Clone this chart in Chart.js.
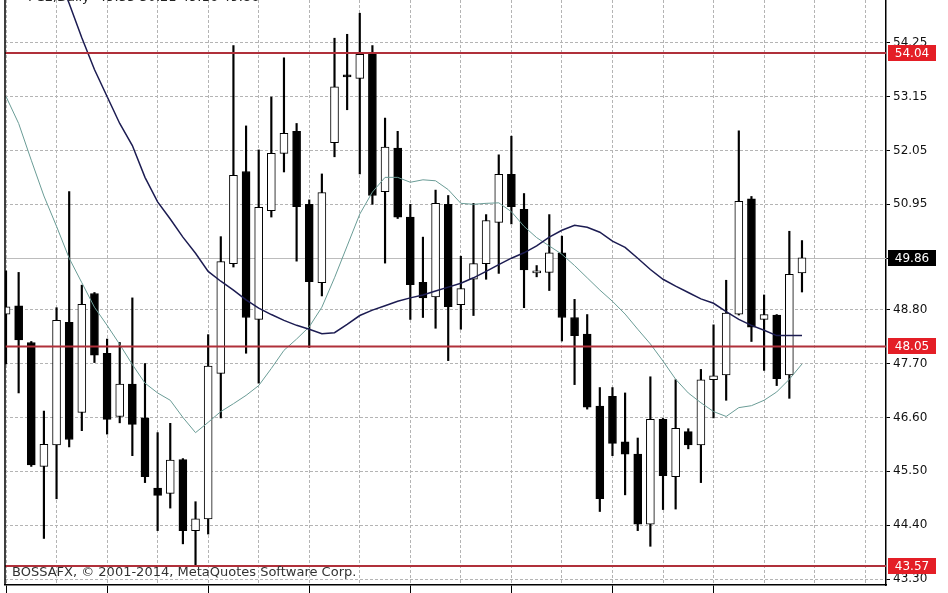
<!DOCTYPE html>
<html><head><meta charset="utf-8">
<script src="https://cdn.jsdelivr.net/npm/chart.js@4/dist/chart.umd.min.js"></script>
<style>html,body{margin:0;padding:0;background:#fff;overflow:hidden}#wrap{position:relative;width:948px;height:593px}</style>
</head><body><div id="wrap"><canvas id="c"></canvas></div>
<script>
// ---- data ----
const barNumbers = [1,2,3,4,5,6,7,8,9,10,11,12,13,14,15,16,17,18,19,20,21,22,23,24,25,26,27,28,29,30,31,32,33,34,35,36,37,38,39,40,41,42,43,44,45,46,47,48,49,50,51,52,53,54,55,56,57,58,59,60,61,62,63,64];
const opens  = [48.71,48.88,48.13,45.60,46.04,48.54,46.70,49.13,47.91,46.62,47.28,46.59,45.16,45.05,45.74,44.29,44.53,47.50,49.74,51.62,48.60,50.82,51.99,52.44,50.95,49.35,52.21,53.59,53.52,54.04,51.21,52.10,50.69,49.36,49.06,50.95,48.90,49.42,49.74,50.58,51.56,50.85,49.55,49.56,49.96,48.64,48.30,46.83,47.03,46.10,45.85,44.42,46.56,45.39,46.31,46.04,47.37,47.47,48.71,51.06,48.60,48.69,47.47,49.55];
const highs  = [49.59,49.56,48.15,46.73,48.84,51.21,49.30,49.15,48.20,48.13,49.04,47.70,46.29,46.48,45.76,44.88,48.29,50.29,54.19,52.55,52.06,53.14,53.94,52.60,51.04,51.57,54.34,54.42,54.85,54.19,52.71,52.44,50.95,50.28,51.24,51.13,49.89,50.97,50.74,51.96,52.34,51.17,49.70,50.74,50.30,49.01,48.70,47.21,47.21,47.10,46.18,47.43,46.58,47.37,46.37,47.58,48.49,49.40,52.45,51.11,49.10,48.70,50.40,50.21];
const lows   = [47.69,47.10,45.60,44.13,44.94,46.00,46.33,47.72,46.26,46.49,45.82,45.27,44.29,44.75,44.02,43.57,44.22,46.59,49.67,47.91,47.30,50.69,51.61,49.79,48.03,49.08,51.92,52.88,51.57,50.95,49.75,50.66,48.60,48.64,48.42,47.76,48.40,48.68,49.42,49.54,50.55,48.84,49.47,49.19,48.16,47.27,46.77,44.68,45.82,45.02,44.29,43.97,44.72,44.73,45.96,45.27,46.59,46.95,48.69,48.15,47.56,47.25,46.99,49.16];
const closes = [48.86,48.18,45.63,46.05,48.58,46.15,48.91,47.87,46.56,47.28,46.46,45.39,45.01,45.73,44.29,44.53,47.65,49.78,51.54,48.64,50.89,51.99,52.40,50.90,49.37,51.19,53.35,53.55,54.01,51.13,52.12,50.69,49.31,49.04,50.97,48.86,49.23,49.74,50.62,51.56,50.90,49.61,49.57,49.96,48.64,48.27,46.81,44.94,46.07,45.85,44.42,46.56,45.41,46.38,46.04,47.37,47.45,48.73,51.01,48.44,48.70,47.39,49.52,49.86];
const maSlow = [58.5,57.8,57.1,56.4,55.7,55.05,54.35,53.7,53.15,52.6,52.15,51.5,51.0,50.65,50.28,49.95,49.58,49.38,49.2,49.0,48.83,48.7,48.58,48.48,48.4,48.31,48.33,48.5,48.68,48.79,48.88,48.97,49.04,49.1,49.18,49.26,49.34,49.45,49.58,49.72,49.85,49.96,50.1,50.28,50.42,50.52,50.48,50.38,50.2,50.07,49.85,49.62,49.42,49.28,49.15,49.02,48.93,48.76,48.6,48.48,48.38,48.27,48.27,48.27];
const maFast = [53.15,52.6,51.85,51.12,50.5,49.85,49.35,48.85,48.48,48.09,47.68,47.3,47.1,46.95,46.6,46.29,46.5,46.72,46.88,47.05,47.25,47.6,47.97,48.2,48.45,48.85,49.45,50.1,50.75,51.2,51.5,51.5,51.4,51.45,51.43,51.25,50.97,50.95,50.97,50.98,50.8,50.5,50.27,50.1,49.93,49.7,49.45,49.2,48.97,48.71,48.4,48.1,47.75,47.38,47.1,46.9,46.72,46.62,46.8,46.84,46.95,47.12,47.38,47.69];
const yTickValues = [43.30,44.40,45.50,46.60,47.70,48.80,49.85,50.95,52.05,53.15,54.25];
const redLevels = [54.04,48.05,43.57];
const bidLevel = 49.86;
const titleText = 'FCE,Daily  49.55 50.21 49.16 49.86';
const footerText = 'BOSSAFX, \u00A9 2001-2014, MetaQuotes Software Corp.';

const FONT = 'DejaVu Sans';
const lastBar = barNumbers[barNumbers.length - 1];

const overlay = {
  id: 'overlay',
  beforeDatasetsDraw(chart) {
    const {ctx, chartArea: a, scales: {y}} = chart;
    const py = Math.round(y.getPixelForValue(bidLevel)) + 0.5;
    ctx.save();
    ctx.strokeStyle = '#bcbcbc'; ctx.lineWidth = 1;
    ctx.beginPath(); ctx.moveTo(a.left, py); ctx.lineTo(a.right, py); ctx.stroke();
    ctx.restore();
  },
  afterDatasetsDraw(chart) {
    const {ctx, chartArea: a, scales: {y}} = chart;
    ctx.save();
    ctx.strokeStyle = '#b0303a'; ctx.lineWidth = 2;
    redLevels.forEach(v => {
      const py = y.getPixelForValue(v);
      ctx.beginPath(); ctx.moveTo(a.left, py); ctx.lineTo(a.right, py); ctx.stroke();
    });
    ctx.strokeStyle = '#000'; ctx.lineWidth = 1.5;
    ctx.beginPath(); ctx.moveTo(a.left, a.top); ctx.lineTo(a.left, a.bottom); ctx.stroke();
    ctx.restore();
  },
  afterDraw(chart) {
    const {ctx, chartArea: a, scales: {y}} = chart;
    ctx.save();
    ctx.font = '12px "' + FONT + '"';
    ctx.textBaseline = 'middle';
    ctx.textAlign = 'center';
    const boxes = redLevels.map(v => ({v, bg: '#e41e26'})).concat([{v: bidLevel, bg: '#000'}]);
    boxes.forEach(b => {
      const py = y.getPixelForValue(b.v);
      ctx.fillStyle = b.bg;
      ctx.fillRect(a.right + 2, Math.round(py) - 8, 48, 16);
      ctx.fillStyle = '#fff';
      ctx.fillText(b.v.toFixed(2), a.right + 26, Math.round(py) + 0.5);
    });
    ctx.textAlign = 'left';
    ctx.font = '13px "' + FONT + '"';
    ctx.fillStyle = '#222';
    ctx.fillText(titleText, 28, -2);
    ctx.fillStyle = '#333';
    ctx.fillText(footerText, 12, 573);
    ctx.restore();
  }
};

new Chart(document.getElementById('c'), {
  type: 'bar',
  data: {
    datasets: [
      { type: 'line', label: 'MA slow', data: barNumbers.map((n, i) => ({x: n, y: maSlow[i]})),
        borderColor: '#1c1c52', borderWidth: 1.5, pointRadius: 0, tension: 0, order: 0 },
      { type: 'line', label: 'MA fast', data: barNumbers.map((n, i) => ({x: n, y: maFast[i]})),
        borderColor: '#6a9c96', borderWidth: 1, pointRadius: 0, tension: 0, order: 0 },
      { label: 'body', data: barNumbers.map((n, i) => ({x: n, y: [opens[i], closes[i]]})),
        backgroundColor: c => closes[c.dataIndex] >= opens[c.dataIndex] ? '#ffffff' : '#000000',
        borderColor: '#000', borderWidth: 1, borderSkipped: false, barThickness: 8,
        minBarLength: 2, grouped: false, order: 1 },
      { label: 'wick', data: barNumbers.map((n, i) => ({x: n, y: [lows[i], highs[i]]})),
        backgroundColor: '#000', borderWidth: 0, barThickness: 1.5, grouped: false, order: 2 }
    ]
  },
  plugins: [overlay],
  options: {
    responsive: true, maintainAspectRatio: false, animation: false,
    layout: { padding: { left: 5, right: 0, top: 0, bottom: 0 } },
    plugins: { legend: { display: false }, tooltip: { enabled: false } },
    scales: {
      x: {
        type: 'linear', min: 0.92, max: 70.65, offset: false,
        afterBuildTicks: s => { const t = []; for (let v = 1; v <= s.max; v += 4) t.push({value: v}); s.ticks = t; },
        afterFit: s => { s.height = 8; s.paddingLeft = 0; s.paddingRight = 0; },
        ticks: { display: false },
        grid: { offset: false, color: '#b4b4b4', lineWidth: 1, drawTicks: true, tickLength: 8,
                tickColor: c => (c.tick && (c.tick.value - 1) % 8 === 0 && c.tick.value <= lastBar) ? '#000' : 'rgba(0,0,0,0)' },
        border: { display: true, color: '#000', width: 1.5, dash: [3, 2] }
      },
      y: {
        position: 'right', min: 43.18, max: 55.12,
        afterBuildTicks: s => { s.ticks = yTickValues.map(v => ({value: v})); },
        afterFit: s => { s.width = 62; s.paddingTop = 0; s.paddingBottom = 0; },
        ticks: { callback: v => Number(v).toFixed(2), font: { family: FONT, size: 12 }, color: '#111', padding: 3, autoSkip: false },
        grid: { color: '#b4b4b4', lineWidth: 1, drawTicks: true, tickLength: 4, tickColor: '#000' },
        border: { display: true, color: '#000', width: 1.5, dash: [3, 2] }
      }
    }
  }
});
</script></body></html>
